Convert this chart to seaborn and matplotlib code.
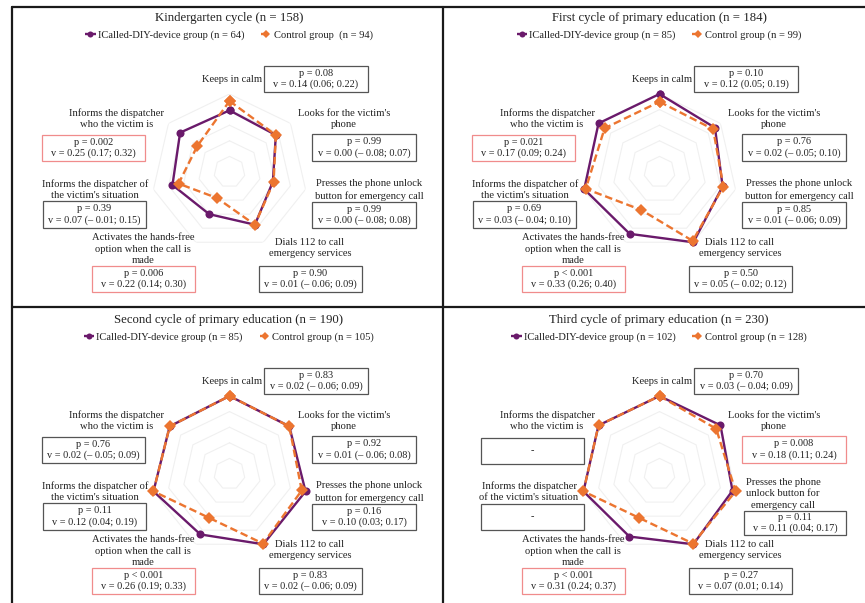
import numpy as np
import pandas as pd
import matplotlib
matplotlib.use("Agg")
import matplotlib.pyplot as plt
from matplotlib.patches import Rectangle
from matplotlib.lines import Line2D
import seaborn as sns

# ---- data ----
categories = ["Keeps in calm",
              "Looks for the victim's\nphone",
              "Presses the phone unlock\nbutton for emergency call",
              "Dials 112 to call\nemergency services",
              "Activates the hands-free\noption when the call is\nmade",
              "Informs the dispatcher of\nthe victim's situation",
              "Informs the dispatcher\nwho the victim is"]
categories_third = ["Keeps in calm",
                    "Looks for the victim's\nphone",
                    "Presses the phone\nunlock button for\nemergency call",
                    "Dials 112 to call\nemergency services",
                    "Activates the hands-free\noption when the call is\nmade",
                    "Informs the dispatcher\nof the victim's situation",
                    "Informs the dispatcher\nwho the victim is"]

titles = ["Kindergarten cycle (n = 158)",
          "First cycle of primary education (n = 184)",
          "Second cycle of primary education (n = 190)",
          "Third cycle of primary education (n = 230)"]
icalled_labels = ["ICalled-DIY-device group (n = 64)", "ICalled-DIY-device group (n = 85)",
                  "ICalled-DIY-device group (n = 85)", "ICalled-DIY-device group (n = 102)"]
control_labels = ["Control group  (n = 94)", "Control group (n = 99)",
                  "Control group (n = 105)", "Control group (n = 128)"]

kinder_icalled = [0.79, 0.76, 0.57, 0.75, 0.60, 0.75, 0.81]
kinder_control = [0.91, 0.76, 0.58, 0.75, 0.37, 0.67, 0.53]
first_icalled = [1.00, 0.91, 0.83, 1.00, 0.88, 0.99, 1.00]
first_control = [0.90, 0.88, 0.84, 0.98, 0.54, 0.97, 0.90]
second_icalled = [1.00, 0.98, 1.00, 1.00, 0.86, 1.00, 0.98]
second_control = [1.00, 0.98, 0.95, 0.99, 0.62, 1.00, 0.98]
third_icalled = [1.00, 1.00, 0.96, 1.00, 0.89, 1.00, 1.00]
third_control = [1.00, 0.93, 1.00, 0.99, 0.62, 1.00, 1.00]

kinder_p = ["p = 0.08", "p = 0.99", "p = 0.99", "p = 0.90", "p = 0.006", "p = 0.39", "p = 0.002"]
kinder_v = ["v = 0.14 (0.06; 0.22)", "v = 0.00 (\u2013 0.08; 0.07)", "v = 0.00 (\u2013 0.08; 0.08)",
            "v = 0.01 (\u2013 0.06; 0.09)", "v = 0.22 (0.14; 0.30)", "v = 0.07 (\u2013 0.01; 0.15)",
            "v = 0.25 (0.17; 0.32)"]
first_p = ["p = 0.10", "p = 0.76", "p = 0.85", "p = 0.50", "p < 0.001", "p = 0.69", "p = 0.021"]
first_v = ["v = 0.12 (0.05; 0.19)", "v = 0.02 (\u2013 0.05; 0.10)", "v = 0.01 (\u2013 0.06; 0.09)",
           "v = 0.05 (\u2013 0.02; 0.12)", "v = 0.33 (0.26; 0.40)", "v = 0.03 (\u2013 0.04; 0.10)",
           "v = 0.17 (0.09; 0.24)"]
second_p = ["p = 0.83", "p = 0.92", "p = 0.16", "p = 0.83", "p < 0.001", "p = 0.11", "p = 0.76"]
second_v = ["v = 0.02 (\u2013 0.06; 0.09)", "v = 0.01 (\u2013 0.06; 0.08)", "v = 0.10 (0.03; 0.17)",
            "v = 0.02 (\u2013 0.06; 0.09)", "v = 0.26 (0.19; 0.33)", "v = 0.12 (0.04; 0.19)",
            "v = 0.02 (\u2013 0.05; 0.09)"]
third_p = ["p = 0.70", "p = 0.008", "p = 0.11", "p = 0.27", "p < 0.001", "-", "-"]
third_v = ["v = 0.03 (\u2013 0.04; 0.09)", "v = 0.18 (0.11; 0.24)", "v = 0.11 (0.04; 0.17)",
           "v = 0.07 (0.01; 0.14)", "v = 0.31 (0.24; 0.37)", "", ""]

panels = [(kinder_icalled, kinder_control, kinder_p, kinder_v, categories),
          (first_icalled, first_control, first_p, first_v, categories),
          (second_icalled, second_control, second_p, second_v, categories),
          (third_icalled, third_control, third_p, third_v, categories_third)]

# ---- layout (pixels, y from top, relative to the top-left panel) ----
W, H = 865, 603
offsets = [(0, 0), (430, 0), (0, 302), (430, 302)]
center = (229.5, 172)
R = 78
label_pos = [(262, 79, "right"), (344, 119, "center"), (369, 190, "center"), (310, 248, "center"),
             (143, 249, "center"), (95, 190, "center"), (117, 119, "center")]
box_pos = [(264, 66, 104, 26), (312, 134, 104, 27), (312, 202, 104, 26), (259, 266, 103, 26),
           (92, 266, 103, 26), (43, 201, 103, 27), (42, 135, 103, 26)]
# third panel has a few differently placed items
label_pos_third = list(label_pos)
label_pos_third[2] = (353, 192, "center")
label_pos_third[5] = (99, 190, "center")
box_pos_third = list(box_pos)
box_pos_third[2] = (314, 209, 102, 24)
box_pos_third[5] = (51, 202, 103, 26)
box_pos_third[6] = (51, 136, 103, 26)

purple = "#6a1a6b"
orange = "#ec7530"

sns.set_style("white")
plt.rcParams["font.family"] = ["Liberation Serif", "DejaVu Serif"]
plt.rcParams["text.color"] = "#222222"


def fx(x):
    return x / W


def fy(y):
    return 1 - y / H


fig = plt.figure(figsize=(W / 100, H / 100), dpi=100)
fig.patch.set_facecolor("white")

n = len(categories)
theta = np.linspace(0, 2 * np.pi, n, endpoint=False)
theta_closed = np.append(theta, theta[0])

for k, (ical, ctrl, pv, vv, cats) in enumerate(panels):
    ox, oy = offsets[k]
    cx, cy = center[0] + ox, center[1] + oy
    ax = fig.add_axes([fx(cx - R), fy(cy + R), 2 * R / W, 2 * R / H], projection="polar")
    ax.set_theta_zero_location("N")
    ax.set_theta_direction(-1)

    # heptagon grid
    for lvl in [0.2, 0.4, 0.6, 0.8, 1.0]:
        ax.plot(theta_closed, [lvl] * (n + 1), color="#f0f0f0", lw=0.8, zorder=0)

    df = pd.DataFrame({
        "theta": np.concatenate([theta_closed, theta_closed]),
        "score": list(ical) + [ical[0]] + list(ctrl) + [ctrl[0]],
        "group": [icalled_labels[k]] * (n + 1) + [control_labels[k]] * (n + 1),
    })
    sns.lineplot(data=df, x="theta", y="score", hue="group", style="group",
                 hue_order=[icalled_labels[k], control_labels[k]],
                 palette=[purple, orange],
                 markers=["o", "D"], dashes=[(1, 0), (3.2, 1.6)],
                 sort=False, estimator=None, lw=1.7, markersize=5.8,
                 markeredgewidth=0, clip_on=False, ax=ax)
    ax.set_ylim(0, 1)
    ax.set_xticks([])
    ax.set_yticks([])
    ax.grid(False)
    ax.spines["polar"].set_visible(False)
    ax.set_xlabel("")
    ax.set_ylabel("")
    ax.patch.set_alpha(0)

    sns.move_legend(ax, "center", bbox_to_anchor=(fx(229 + ox), fy(35 + oy)),
                    bbox_transform=fig.transFigure, ncol=2, frameon=False, title=None,
                    fontsize=7.6, handlelength=1.0, handletextpad=0.2, columnspacing=1.6,
                    borderpad=0, markerscale=0.75)

    fig.text(fx(229 + ox), fy(18 + oy), titles[k], ha="center", va="center", fontsize=9.2)

    lp = label_pos_third if k == 3 else label_pos
    bp = box_pos_third if k == 3 else box_pos
    for i in range(n):
        lx, ly, ha = lp[i]
        fig.text(fx(lx + ox), fy(ly + oy), cats[i], ha=ha, va="center", fontsize=7.6,
                 linespacing=1.3, multialignment="center")
        bx, by, bw, bh = bp[i]
        ptxt = pv[i]
        sig = False
        if ptxt.startswith("p <"):
            sig = True
        elif ptxt.startswith("p ="):
            sig = float(ptxt.split("=")[1]) < 0.05
        fig.add_artist(Rectangle((fx(bx + ox), fy(by + oy + bh)), bw / W, bh / H,
                                 transform=fig.transFigure, fill=False,
                                 ec="#f08c8c" if sig else "#555555", lw=0.9))
        txt = ptxt if vv[i] == "" else ptxt + "\n" + vv[i]
        fig.text(fx(bx + ox + bw / 2), fy(by + oy + bh / 2), txt, ha="center", va="center",
                 fontsize=7.4, linespacing=1.3)

# panel frame lines
frame = [((12, 865), (7, 7)), ((12, 12), (7, 603)), ((443, 443), (7, 603)), ((12, 865), (307, 307))]
for xs, ys in frame:
    fig.add_artist(Line2D([fx(xs[0]), fx(xs[1])], [fy(ys[0]), fy(ys[1])],
                          transform=fig.transFigure, color="#1a1a1a", lw=1.6))

fig.savefig("out.png", dpi=100)
